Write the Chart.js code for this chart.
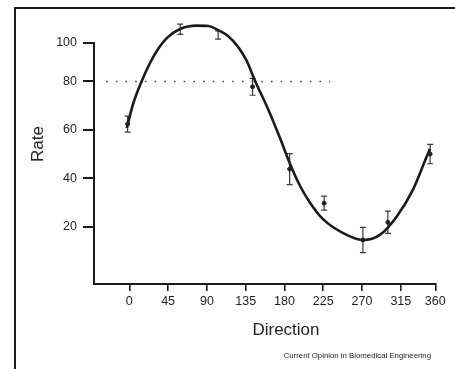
<!DOCTYPE html>
<html>
<head>
<meta charset="utf-8">
<script src="https://cdn.jsdelivr.net/npm/chart.js@4.4.1/dist/chart.umd.min.js"></script>
<style>
  html, body { margin: 0; padding: 0; background: #fff; overflow: hidden; }
  #wrap { position: relative; width: 455px; height: 369px; }
  #frame { position: absolute; left: 14px; top: 7px; width: 500px; height: 400px;
           border-left: 2.5px solid #1b1b1b; border-top: 2.5px solid #1b1b1b; }
  #chart-box { position: absolute; left: 0; top: 0; width: 455px; height: 369px; }
  .lbl { position: absolute; font-family: 'Liberation Sans', Arial, sans-serif; color: #1e1e1e; white-space: nowrap; }
  #ytitle { left: 38px; top: 144px; font-size: 17px; transform: translate(-50%, -50%) rotate(-90deg); }
  #xtitle { left: 286px; top: 330px; font-size: 17px; transform: translate(-50%, -50%); }
  #source { right: 24px; top: 355px; font-size: 7.8px; transform: translateY(-50%); color: #222; }
</style>
</head>
<body>
<div id="wrap">
  <div id="frame"></div>
  <div id="chart-box"><canvas id="tuning"></canvas></div>
  <div class="lbl" id="ytitle">Rate</div>
  <div class="lbl" id="xtitle">Direction</div>
  <div class="lbl" id="source">Current Opinion in Biomedical Engineering</div>
</div>
<script>
// measured responses (mean and error) per direction
const ptX = [-2, 59, 103, 143, 186, 226, 271, 300, 349];
const ptY = [62.4, 101.6, 99.2, 77.8, 43.8, 29.7, 14.5, 21.8, 50];
const ptErr = [3.3, 2.1, 1.7, 3.5, 6.4, 2.9, 5.2, 4.6, 4];

// fitted tuning curve
const curveX = [-3, 4.6, 14.4, 27.8, 43.4, 58.8, 78.2, 91.6, 105.2, 114.8, 126.4, 136.2, 145.8, 161.2, 174.8, 186.4, 198, 209.6, 225, 252.1, 271.4, 290.7, 310.1, 329.4, 344.9, 348.8];
const curveY = [60.7, 71, 80.2, 90.2, 97.9, 101.7, 103.1, 102.9, 100.8, 98.7, 94.2, 88.5, 80.3, 68.4, 56.6, 46, 36.9, 29.9, 23, 16.6, 14.5, 16.6, 24.1, 35.5, 48.9, 52.2];

// dotted reference level
const refX = [-27, 233];
const refY = [80, 80];

// axis ticks (positions as drawn in the figure)
const xTickValues = [0, 45, 90, 135, 180, 225, 270, 315, 355];
const xTickLabels = ['0', '45', '90', '135', '180', '225', '270', '315', '360'];
const yTickValues = [20, 40, 60, 80, 95.9];
const yTickLabels = ['20', '40', '60', '80', '100'];

const INK = '#1b1b1b';
const FONT = "'Liberation Sans', Arial, sans-serif";

const errorBars = {
  id: 'errorBars',
  beforeDatasetsDraw(chart) {
    const { ctx, scales: { x, y } } = chart;
    ctx.save();
    ctx.strokeStyle = '#3a3a3a';
    ctx.lineWidth = 1.2;
    ptX.forEach((v, i) => {
      const px = x.getPixelForValue(v);
      const top = y.getPixelForValue(ptY[i] + ptErr[i]);
      const bot = y.getPixelForValue(ptY[i] - ptErr[i]);
      ctx.beginPath();
      ctx.moveTo(px, top); ctx.lineTo(px, bot);
      ctx.moveTo(px - 3, top); ctx.lineTo(px + 3, top);
      ctx.moveTo(px - 3, bot); ctx.lineTo(px + 3, bot);
      ctx.stroke();
    });
    ctx.restore();
  }
};

new Chart(document.getElementById('tuning'), {
  type: 'scatter',
  data: {
    datasets: [
      {
        type: 'line',
        data: refX.map((v, i) => ({ x: v, y: refY[i] })),
        borderColor: '#444',
        borderWidth: 1.6,
        borderDash: [1.6, 8.1],
        pointRadius: 0,
        clip: false
      },
      {
        data: ptX.map((v, i) => ({ x: v, y: ptY[i] })),
        backgroundColor: '#222',
        borderColor: '#222',
        pointRadius: 2,
        clip: false
      },
      {
        type: 'line',
        data: curveX.map((v, i) => ({ x: v, y: curveY[i] })),
        borderColor: INK,
        borderWidth: 2.6,
        pointRadius: 0,
        cubicInterpolationMode: 'monotone',
        clip: false
      }
    ]
  },
  options: {
    responsive: true,
    maintainAspectRatio: false,
    animation: false,
    layout: { padding: { top: 43, right: 19.7, bottom: 0, left: 0 } },
    plugins: { legend: { display: false }, tooltip: { enabled: false } },
    scales: {
      x: {
        type: 'linear',
        min: -41,
        max: 355,
        afterFit(scale) { scale.height = 85; },
        afterBuildTicks(scale) { scale.ticks = xTickValues.map(v => ({ value: v })); },
        border: { display: true, color: INK, width: 2 },
        grid: { drawOnChartArea: false, drawTicks: true, tickLength: 7, color: INK, lineWidth: 1.6 },
        ticks: {
          autoSkip: false,
          maxRotation: 0,
          padding: 3,
          color: '#1e1e1e',
          font: { family: FONT, size: 12.5 },
          callback: (v, i) => xTickLabels[i]
        }
      },
      y: {
        type: 'linear',
        min: -3.7,
        max: 95.9,
        afterFit(scale) { scale.width = 94; },
        afterBuildTicks(scale) { scale.ticks = yTickValues.map(v => ({ value: v })); },
        border: { display: true, color: INK, width: 2 },
        grid: { drawOnChartArea: false, drawTicks: true, tickLength: 11, color: INK, lineWidth: 2 },
        ticks: {
          autoSkip: false,
          padding: 6,
          color: '#1e1e1e',
          font: { family: FONT, size: 12.5 },
          callback: (v, i) => yTickLabels[i]
        }
      }
    }
  },
  plugins: [errorBars]
});
</script>
</body>
</html>
